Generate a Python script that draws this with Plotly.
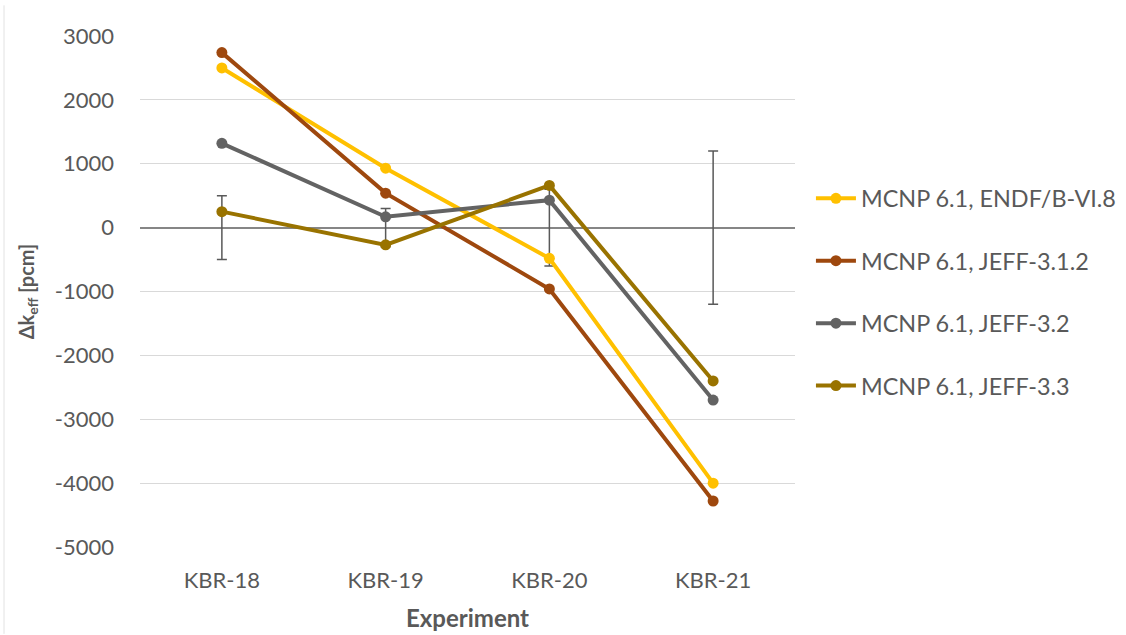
import plotly.graph_objects as go

experiments = ["KBR-18", "KBR-19", "KBR-20", "KBR-21"]

series_names = [
    "MCNP 6.1, ENDF/B-VI.8",
    "MCNP 6.1, JEFF-3.1.2",
    "MCNP 6.1, JEFF-3.2",
    "MCNP 6.1, JEFF-3.3",
]
endf_b_vi8 = [2500, 930, -480, -4000]
jeff_312 = [2740, 540, -960, -4280]
jeff_32 = [1320, 170, 430, -2700]
jeff_33 = [250, -270, 660, -2400]

# experimental uncertainty around zero
exp_uncertainty = [500, 300, 600, 1200]
exp_zero = [0, 0, 0, 0]

y_tick_values = [3000, 2000, 1000, 0, -1000, -2000, -3000, -4000, -5000]
y_tick_labels = ["3000", "2000", "1000", "0", "-1000", "-2000", "-3000", "-4000", "-5000"]

colors = ["#FFC000", "#9E480E", "#636363", "#997300"]
text_color = "#595959"
font_family = "Lato, sans-serif"

fig = go.Figure()

fig.add_trace(go.Scatter(
    x=experiments, y=exp_zero, mode="markers",
    marker=dict(size=1, color="rgba(0,0,0,0)"),
    error_y=dict(type="data", array=exp_uncertainty, visible=True,
                 color="#595959", thickness=1.5, width=5),
    showlegend=False, hoverinfo="skip",
))

for name, vals, col in zip(series_names, [endf_b_vi8, jeff_312, jeff_32, jeff_33], colors):
    fig.add_trace(go.Scatter(
        x=experiments, y=vals, mode="lines+markers", name=name, legendgroup=name,
        line=dict(color=col, width=4),
        marker=dict(color=col, size=11),
    ))

# faint chart border on the left
fig.add_shape(type="line", xref="paper", yref="paper",
              x0=-0.2076, x1=-0.2076, y0=-0.17, y1=1.06,
              line=dict(color="#E3E3E3", width=1))

fig.update_layout(
    width=1126, height=635,
    paper_bgcolor="white", plot_bgcolor="white",
    margin=dict(l=140, r=331, t=36, b=88, autoexpand=False),
    font=dict(family=font_family, color=text_color, size=22),
    legend=dict(xref="container", yref="container",
                x=0.7202, xanchor="left", y=0.54, yanchor="middle",
                font=dict(size=23.4, color=text_color), tracegroupgap=29,
                itemwidth=40),
    xaxis=dict(
        type="category", range=[-0.5, 3.5], automargin=False,
        showgrid=False, zeroline=False, showline=False,
        tickfont=dict(size=22, color=text_color), ticklabelstandoff=18,
        title=dict(text="<b>Experiment</b>", font=dict(size=24, color=text_color), standoff=18),
    ),
    yaxis=dict(
        range=[-5000, 3000], tickvals=y_tick_values, ticktext=y_tick_labels,
        automargin=False,
        showgrid=True, gridcolor="#D9D9D9", gridwidth=1.3,
        zeroline=True, zerolinecolor="#868686", zerolinewidth=2,
        showline=False,
        tickfont=dict(size=22, color=text_color), ticklabelstandoff=25,
        title=dict(text="<b>Δk<sub>eff</sub> [pcm]</b>", font=dict(size=20, color=text_color), standoff=14),
    ),
)

fig.write_html("out.html")
